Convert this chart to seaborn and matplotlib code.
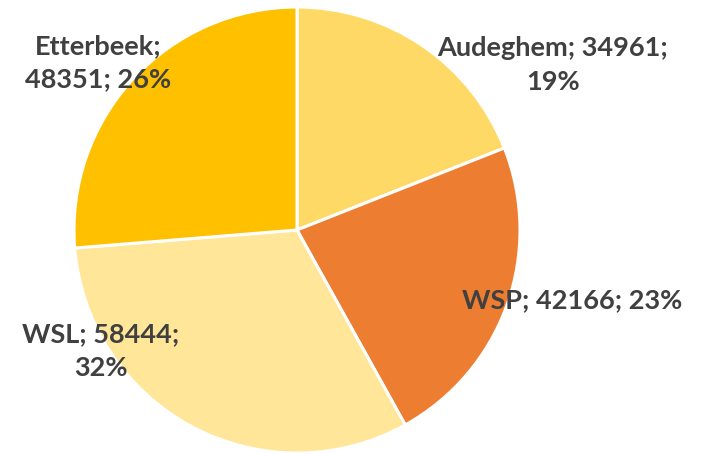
import matplotlib
matplotlib.use("Agg")
import matplotlib.pyplot as plt
import seaborn as sns

sns.set_theme(style="white")
plt.rcParams["font.family"] = ["Lato", "DejaVu Sans"]

# Data
categories = ["Audeghem", "WSP", "WSL", "Etterbeek"]
values = [34961, 42166, 58444, 48351]
colors = ["#FFD966", "#ED7D31", "#FFE699", "#FFC000"]

total = sum(values)
label_texts = [
    f"{categories[0]}; {values[0]};\n{round(values[0] / total * 100)}%",
    f"{categories[1]}; {values[1]}; {round(values[1] / total * 100)}%",
    f"{categories[2]}; {values[2]};\n{round(values[2] / total * 100)}%",
    f"{categories[3]};\n{values[3]}; {round(values[3] / total * 100)}%",
]
# label centres in pixel space (x from left, y from top)
label_px = [(553, 65), (572, 300), (101, 351), (98, 63)]

W, H = 705, 454
cx, cy, R = 297, 230, 223

fig = plt.figure(figsize=(W / 100, H / 100), dpi=100)
ax = fig.add_axes([(cx - R) / W, (H - cy - R) / H, 2 * R / W, 2 * R / H])
ax.pie(values, colors=colors, startangle=90, counterclock=False, radius=1,
       wedgeprops=dict(edgecolor="white", linewidth=2.2))
ax.set_xlim(-1, 1)
ax.set_ylim(-1, 1)
ax.set_aspect("equal")
ax.axis("off")

for txt, (px, py) in zip(label_texts, label_px):
    ax.text((px - cx) / R, (cy - py) / R, txt, ha="center", va="center",
            fontsize=19.5, fontweight="bold", color="#404040",
            linespacing=1.45, clip_on=False)

fig.savefig("out.png", dpi=100)
